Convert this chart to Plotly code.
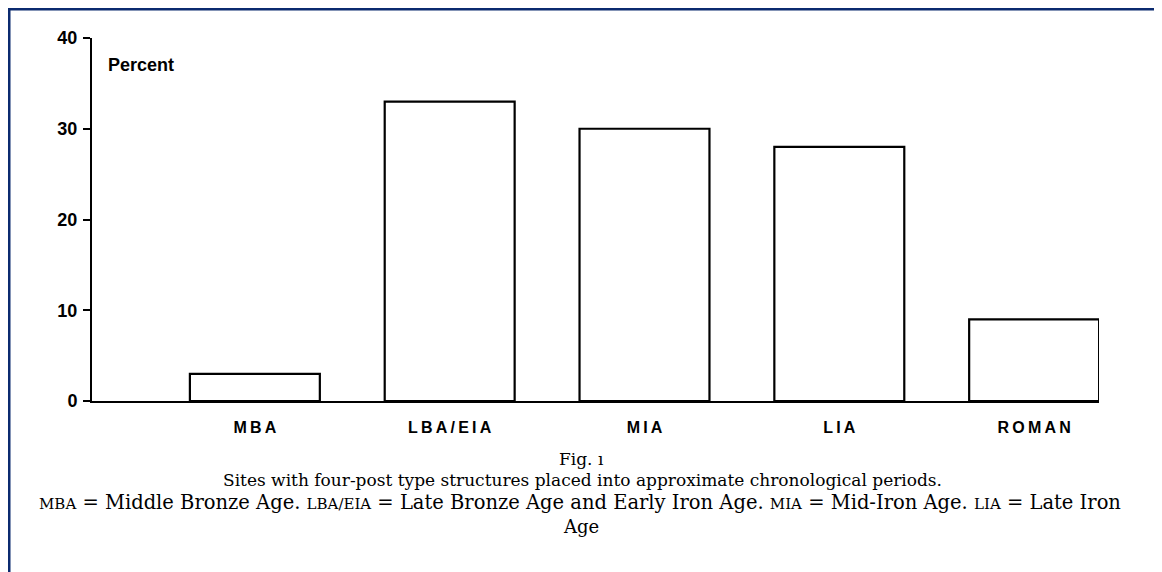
import plotly.graph_objects as go

categories = ["MBA", "LBA/EIA", "MIA", "LIA", "ROMAN"]
percent = [3, 33, 30, 28, 9]
y_ticks = [0, 10, 20, 30, 40]

# page has an 8px body margin; figure spans the rest of the window
OFF = 8
W, H = 1162 - OFF, 572 - OFF
L, T = 92 - OFF, 38 - OFF
R = W - (1099 - OFF)
B = H - (401 - OFF)
pw, ph = W - L - R, H - T - B

def px_x(p):
    return (p - OFF - L) / pw

def px_y(p):
    return (H - B - (p - OFF)) / ph

spaced = ["\u2009".join(list(c)) for c in categories]

fig = go.Figure()
fig.add_trace(go.Bar(
    x=categories, y=percent, width=0.667,
    marker=dict(color="white", line=dict(color="black", width=2.2)),
    hoverinfo="x+y",
))

navy = "#0b2a6f"
sc = "font-size:15px"
serif = "DejaVu Serif"
fig.update_layout(
    width=W, height=H,
    margin=dict(l=L, r=R, t=T, b=B, pad=0),
    paper_bgcolor="white", plot_bgcolor="white",
    showlegend=False,
    xaxis=dict(
        range=[-0.836, 4.333], showgrid=False, zeroline=False,
        showline=True, linecolor="black", linewidth=2,
        ticks="", tickvals=categories, ticktext=spaced,
        tickfont=dict(family="Liberation Sans", size=16, color="black", weight="bold"),
        ticklabelstandoff=11,
    ),
    yaxis=dict(
        range=[0, 40], tickvals=y_ticks, showgrid=False, zeroline=False,
        showline=True, linecolor="black", linewidth=2,
        ticks="outside", ticklen=7, tickwidth=1.5, tickcolor="black",
        tickfont=dict(family="Liberation Sans", size=18, color="black", weight="bold"),
        ticklabelstandoff=2,
    ),
    shapes=[
        dict(type="line", xref="paper", yref="paper", x0=px_x(8), x1=px_x(1175),
             y0=px_y(9), y1=px_y(9), line=dict(color=navy, width=3)),
        dict(type="line", xref="paper", yref="paper", x0=px_x(9), x1=px_x(9),
             y0=px_y(8), y1=px_y(580), line=dict(color=navy, width=3)),
    ],
    annotations=[
        dict(text="Percent", xref="paper", yref="paper", x=px_x(106), y=px_y(65),
             xanchor="left", yanchor="middle", showarrow=False,
             font=dict(family="Liberation Sans", size=18, color="black", weight="bold")),
        dict(text="Fig. ı", xref="paper", yref="paper", x=px_x(581), y=px_y(459),
             xanchor="center", yanchor="middle", showarrow=False,
             font=dict(family=serif, size=17, color="black")),
        dict(text="Sites with four-post type structures placed into approximate chronological periods.",
             xref="paper", yref="paper", x=px_x(582), y=px_y(480),
             xanchor="center", yanchor="middle", showarrow=False,
             font=dict(family=serif, size=17, color="black")),
        dict(text=(f"<span style='{sc}'>MBA</span> = Middle Bronze Age. "
                   f"<span style='{sc}'>LBA/EIA</span> = Late Bronze Age and Early Iron Age. "
                   f"<span style='{sc}'>MIA</span> = Mid-Iron Age. "
                   f"<span style='{sc}'>LIA</span> = Late Iron"),
             xref="paper", yref="paper", x=px_x(580), y=px_y(502),
             xanchor="center", yanchor="middle", showarrow=False,
             font=dict(family=serif, size=19.5, color="black")),
        dict(text="Age", xref="paper", yref="paper", x=px_x(581), y=px_y(526),
             xanchor="center", yanchor="middle", showarrow=False,
             font=dict(family=serif, size=18, color="black")),
    ],
)

fig.write_html("out.html")
